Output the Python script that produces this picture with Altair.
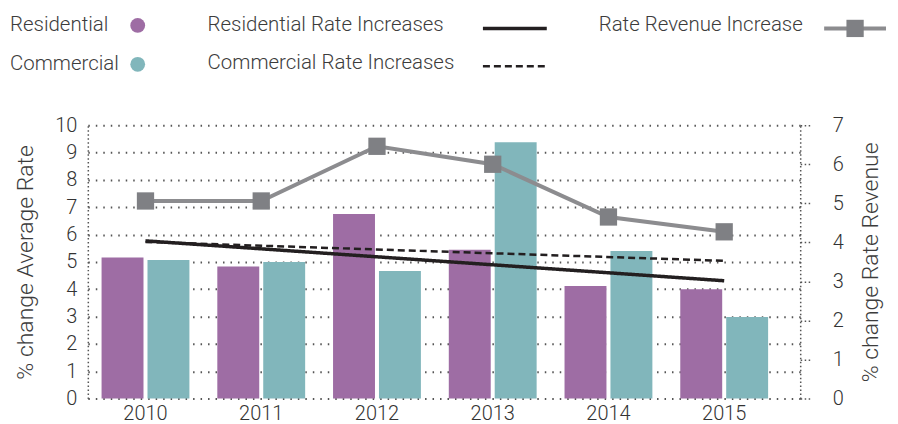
import altair as alt
import pandas as pd

years = ["2010", "2011", "2012", "2013", "2014", "2015"]
residential = [5.16, 4.83, 6.75, 5.44, 4.12, 4.00]
commercial = [5.07, 5.00, 4.67, 9.38, 5.40, 2.98]
revenue = [5.06, 5.06, 6.46, 6.00, 4.65, 4.27]
trend_years = ["2010", "2015"]
res_trend = [5.77, 4.31]
com_trend = [5.73, 5.04]
types = ["Residential", "Commercial"]
trend_names = ["Residential Rate Increases", "Commercial Rate Increases"]
revenue_name = "Rate Revenue Increase"

FONT = "Roboto"
TXT = "#3c3c3c"
PURPLE = "#9E6DA4"
TEAL = "#81B6BB"
GRAY_LINE = "#8C8C8F"
GRAY_SQ = "#7F8084"
DARK = "#231F20"

bars_df = pd.DataFrame({
    "year": years * 2,
    "type": [types[0]] * 6 + [types[1]] * 6,
    "value": residential + commercial,
})
trend_df = pd.DataFrame({
    "year": trend_years * 2,
    "series": [trend_names[0]] * 2 + [trend_names[1]] * 2,
    "value": res_trend + com_trend,
})
rev_df = pd.DataFrame({"year": years, "value": revenue})

xscale = alt.Scale(domain=years, paddingInner=0.241, paddingOuter=0.198, align=0.3)
x_axis = alt.Axis(title=None, domain=False, ticks=False, grid=False,
                  labelAngle=0, labelFontSize=20, labelPadding=5)
x_enc = alt.X("year:N", scale=xscale, sort=years, axis=x_axis)

yleft = alt.Scale(domain=[0, 10], nice=False)
yleft_axis = alt.Axis(title="% change Average Rate", values=list(range(0, 11)),
                      grid=True, gridDash=[1.5, 6], gridColor="#555555", gridWidth=2,
                      domain=True, domainDash=[1.5, 2.5], domainColor="#555555", domainWidth=1.5,
                      ticks=False, tickSize=0, labelFontSize=20, labelPadding=11,
                      labelOverlap=False, titleFontSize=23, titlePadding=17)
y_left = alt.Y("value:Q", scale=yleft, axis=yleft_axis)

bars = alt.Chart(bars_df).mark_bar().encode(
    x=x_enc,
    xOffset=alt.XOffset("type:N", sort=types,
                        scale=alt.Scale(domain=types, paddingInner=0.087, paddingOuter=0)),
    y=y_left,
    color=alt.Color("type:N", scale=alt.Scale(domain=types, range=[PURPLE, TEAL]), legend=None),
)

trends = alt.Chart(trend_df).mark_line(color=DARK).encode(
    x=x_enc,
    y=y_left,
    detail="series:N",
    strokeDash=alt.StrokeDash("series:N", scale=alt.Scale(domain=trend_names, range=[[1, 0], [7, 4]]), legend=None),
    strokeWidth=alt.StrokeWidth("series:N", scale=alt.Scale(domain=trend_names, range=[3.5, 2.5]), legend=None),
)

left = alt.layer(bars, trends)

yright = alt.Scale(domain=[0, 7], nice=False)
yright_axis = alt.Axis(title="% change Rate Revenue", orient="right", values=list(range(0, 8)),
                       grid=False, domain=True, domainDash=[1.5, 2.5], domainColor="#555555", domainWidth=1.5,
                       ticks=True, tickDash=[1.5, 2.5], tickColor="#555555", tickWidth=1.5, tickSize=12,
                       labelFontSize=20, labelPadding=20, labelOverlap=False,
                       titleFontSize=23, titlePadding=16, titleAngle=270, titleBaseline="top")
y_right = alt.Y("value:Q", scale=yright, axis=yright_axis)

rev_line = alt.Chart(rev_df).mark_line(color=GRAY_LINE, strokeWidth=4).encode(
    x=x_enc,
    y=y_right,
)
rev_pts = alt.Chart(rev_df).mark_point(shape="square", filled=True, size=300, color=GRAY_SQ, opacity=1).encode(
    x=x_enc,
    y=y_right,
)
right = alt.layer(rev_line, rev_pts)

one = pd.DataFrame({"k": [0]})

def ltext(label, x, y):
    return alt.Chart(one).mark_text(align="left", baseline="middle", fontSize=20.5, font=FONT,
                                    fontWeight=300, color=TXT).encode(
        x=alt.value(x), y=alt.value(y), text=alt.value(label))

legend_layers = [
    ltext(types[0], -78, -100),
    ltext(types[1], -78, -61),
    alt.Chart(one).mark_point(shape="circle", filled=True, size=220, color=PURPLE, opacity=1).encode(
        x=alt.value(50), y=alt.value(-100)),
    alt.Chart(one).mark_point(shape="circle", filled=True, size=220, color=TEAL, opacity=1).encode(
        x=alt.value(50), y=alt.value(-61)),
    ltext(trend_names[0], 120, -100),
    ltext(trend_names[1], 120, -62),
    alt.Chart(one).mark_rule(color=DARK, strokeWidth=3.5).encode(
        x=alt.value(396), x2=alt.value(460), y=alt.value(-97)),
    alt.Chart(one).mark_rule(color=DARK, strokeWidth=2.5, strokeDash=[7, 4]).encode(
        x=alt.value(396), x2=alt.value(460), y=alt.value(-59)),
    ltext(revenue_name, 512, -100),
    alt.Chart(one).mark_rule(color=GRAY_LINE, strokeWidth=4).encode(
        x=alt.value(738), x2=alt.value(800), y=alt.value(-97)),
    alt.Chart(one).mark_point(shape="square", filled=True, size=300, color=GRAY_SQ, opacity=1).encode(
        x=alt.value(769), y=alt.value(-97)),
]

chart = alt.layer(left, right, *legend_layers).resolve_scale(
    y="independent", strokeDash="independent", strokeWidth="independent"
).properties(
    width=714, height=274,
    autosize=alt.AutoSizeParams(type="none"),
    padding={"left": 80, "top": 117, "right": 90, "bottom": 25},
).configure_view(stroke=None).configure_axis(
    labelFont=FONT, titleFont=FONT, labelColor="#333333", titleColor=TXT,
    labelFontWeight=300, titleFontWeight=300,
)

chart.save("out.html", embed_options={"renderer": "svg", "actions": False})
